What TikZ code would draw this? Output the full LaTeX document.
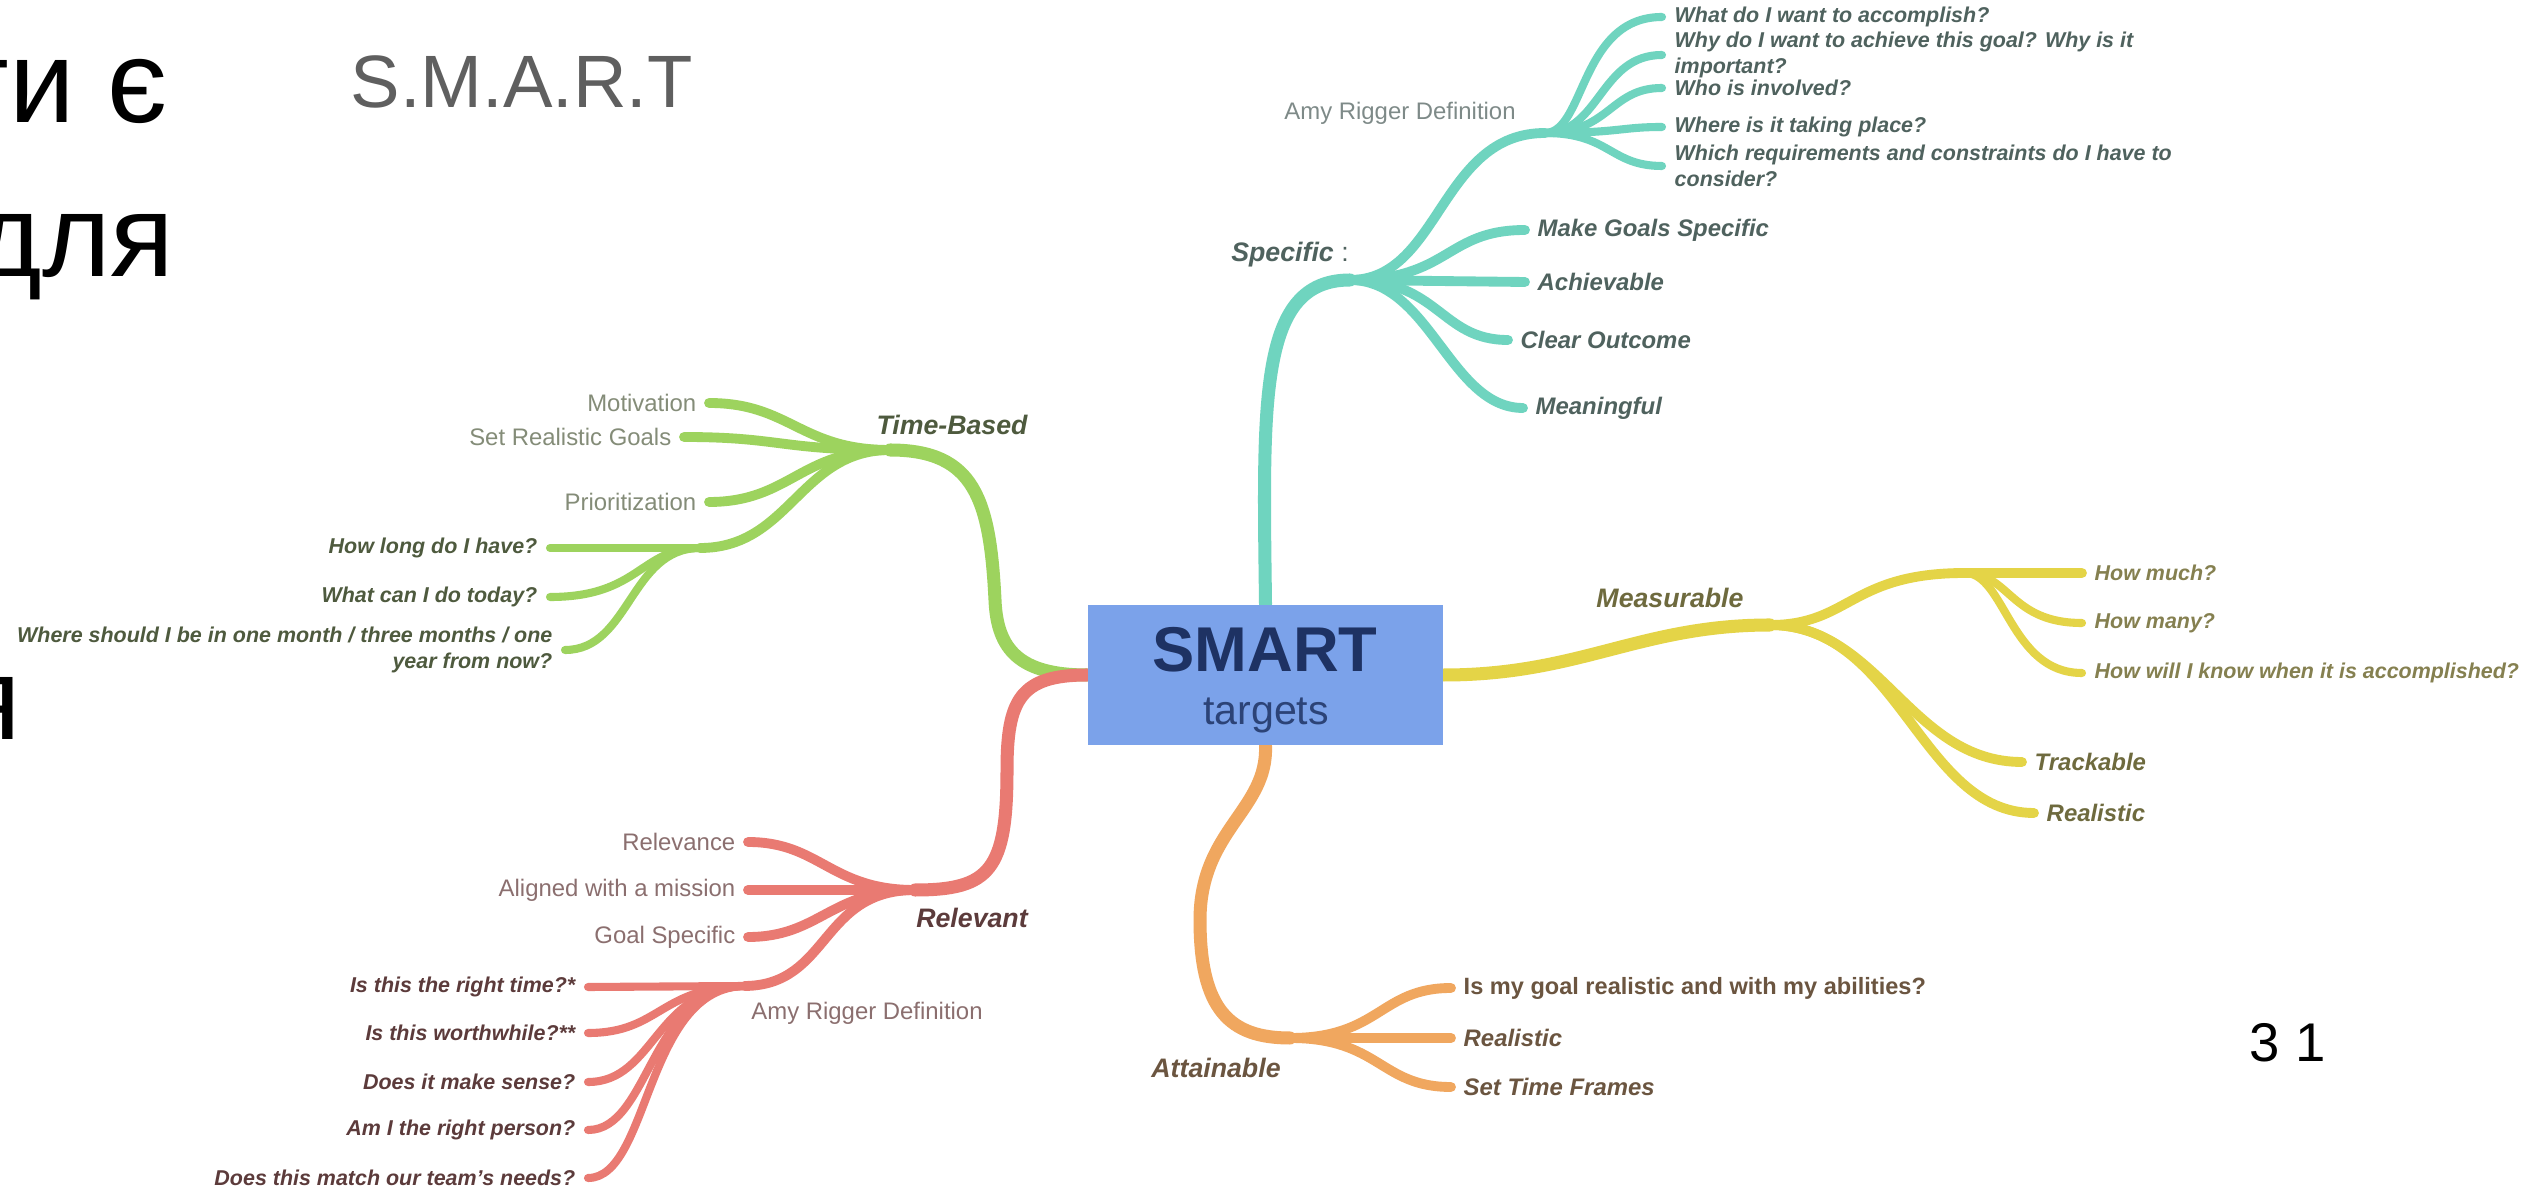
\documentclass[tikz,border=0pt]{standalone}
\usepackage{fontspec}
\setmainfont{Liberation Sans}
\definecolor{cteal}{HTML}{6FD4BF}
\definecolor{cyel}{HTML}{E4D447}
\definecolor{corg}{HTML}{F0A75F}
\definecolor{cred}{HTML}{E97A72}
\definecolor{cgrn}{HTML}{9DD35E}
\definecolor{cblue}{HTML}{7BA2EA}
\definecolor{cnavy}{HTML}{1E3263}
\definecolor{tealtx}{HTML}{4F625E}
\definecolor{tealrg}{HTML}{7E8A88}
\definecolor{yeltx}{HTML}{6E6A3E}
\definecolor{yell3}{HTML}{858050}
\definecolor{orgtx}{HTML}{6B5540}
\definecolor{redtx}{HTML}{5C3B3B}
\definecolor{redrg}{HTML}{8B6F6F}
\definecolor{grntx}{HTML}{4E5A3E}
\definecolor{grnrg}{HTML}{848C78}
\definecolor{smartgray}{HTML}{5F5F5F}
\begin{document}
\begin{tikzpicture}[x=0.01cm,y=-0.01cm,
  trunk/.style={line cap=round, line width=3.7pt},
  br/.style={line cap=round, line width=2.8pt},
  leaf/.style={line cap=round, line width=2.3pt},
  Lone/.style={inner sep=0pt, font=\fontsize{7.6}{9}\selectfont\bfseries\itshape},
  Ltwob/.style={font=\fontsize{6.8}{8}\selectfont\bfseries\itshape},
  Ltwou/.style={font=\fontsize{6.7}{8}\selectfont\bfseries},
  Ltwor/.style={font=\fontsize{6.8}{8}\selectfont},
  Lthree/.style={font=\fontsize{6.1}{7.4}\selectfont\bfseries\itshape},
  rt/.style={anchor=west, inner xsep=0.12cm, inner ysep=0pt},
  lt/.style={anchor=east, inner xsep=0.12cm, inner ysep=0pt},
  big/.style={inner sep=0pt, font=\fontsize{33.4}{40}\selectfont},
]
\useasboundingbox (0,0) rectangle (2527,1189);
\fill[white] (0,0) rectangle (2527,1189);

% slide fragments
\node[big, anchor=base east] (fa) at (168,123) {ти є};
\node[big, anchor=base east] (fb) at (175,277) {для};
\node[big, anchor=base east] (fc) at (22,740) {я};
\node[inner sep=0pt, anchor=base west, text=smartgray, font=\fontsize{21.1}{25}\selectfont] (title) at (350,108) {S.M.A.R.T};
\node[inner sep=0pt, anchor=base west, font=\fontsize{15.5}{18}\selectfont] (pg) at (2249,1061) {3 1};

% centre box (shape)
\node[fill=cblue, minimum width=3.55cm, minimum height=1.40cm, inner sep=0pt] (c) at (1265.5,675) {};

% junctions
\coordinate (jS) at (1350,280);
\coordinate (jA) at (1545,133);
\coordinate (jM) at (1770,625);
\coordinate (jH) at (1965,573);
\coordinate (jAt) at (1290,1038);
\coordinate (jR) at (915,890);
\coordinate (jRA) at (745,986);
\coordinate (jT) at (890,450);
\coordinate (jTS) at (700,548);

% ---------- labels ----------
% Specific
\node[Lone, text=tealtx] (sp) at (1290,255) {Specific \textnormal{:}};
\node[rt, Ltwob, text=tealtx] (mgs) at (1525,230) {Make Goals Specific};
\node[rt, Ltwob, text=tealtx] (ach) at (1525,282) {Achievable};
\node[rt, Ltwob, text=tealtx] (co) at (1508,340) {Clear Outcome};
\node[rt, Ltwob, text=tealtx] (mf) at (1523,408) {Meaningful};
\node[inner sep=0pt, Ltwor, text=tealrg] (amy) at (1400,113) {Amy Rigger Definition};
\node[rt, Lthree, text=tealtx] (what) at (1662,17) {What do I want to accomplish?};
\node[rt, Lthree, text=tealtx, align=left] (why) at (1662,55) {Why do I want to achieve this goal? Why is it\\important?};
\node[rt, Lthree, text=tealtx] (who) at (1662,88) {Who is involved?};
\node[rt, Lthree, text=tealtx] (where) at (1662,127) {Where is it taking place?};
\node[rt, Lthree, text=tealtx, align=left] (which) at (1662,166) {Which requirements and constraints do I have to\\consider?};

% Measurable
\node[Lone, text=yeltx] (ms) at (1670,598) {Measurable};
\node[rt, Lthree, text=yell3] (hm) at (2082,573) {How much?};
\node[rt, Lthree, text=yell3] (hmy) at (2082,623) {How many?};
\node[rt, Lthree, text=yell3] (hw) at (2082,673) {How will I know when it is accomplished?};
\node[rt, Ltwob, text=yeltx] (tr) at (2022,762) {Trackable};
\node[rt, Ltwob, text=yeltx] (rl) at (2034,813) {Realistic};

% Attainable
\node[Lone, text=orgtx] (at) at (1216,1068) {Attainable};
\node[rt, Ltwou, text=orgtx] (ig) at (1451,988) {Is my goal realistic and with my abilities?};
\node[rt, Ltwob, text=orgtx] (rlb) at (1451,1038) {Realistic};
\node[rt, Ltwob, text=orgtx] (stf) at (1451,1087) {Set Time Frames};

% Relevant
\node[Lone, text=redtx] (rv) at (972,918) {Relevant};
\node[lt, Ltwor, text=redrg] (rel) at (748,842) {Relevance};
\node[lt, Ltwor, text=redrg] (alg) at (748,890) {Aligned with a mission};
\node[lt, Ltwor, text=redrg] (gs) at (748,937) {Goal Specific};
\node[inner sep=0pt, Ltwor, text=redrg] (amyb) at (867,1013) {Amy Rigger Definition};
\node[lt, Lthree, text=redtx] (ta) at (588,987) {Is this the right time?*};
\node[lt, Lthree, text=redtx] (tb) at (588,1033) {Is this worthwhile?**};
\node[lt, Lthree, text=redtx] (tc) at (588,1082) {Does it make sense?};
\node[lt, Lthree, text=redtx] (td) at (588,1130) {Am I the right person?};
\node[lt, Lthree, text=redtx] (te) at (588,1178) {Does this match our team's needs?};

% Time-Based
\node[Lone, text=grntx] (tbs) at (952,425) {Time-Based};
\node[lt, Ltwor, text=grnrg] (mot) at (709,403) {Motivation};
\node[lt, Ltwor, text=grnrg] (srg) at (684,437) {Set Realistic Goals};
\node[lt, Ltwor, text=grnrg] (pri) at (709,502) {Prioritization};
\node[lt, Lthree, text=grntx] (hl) at (550,548) {How long do I have?};
\node[lt, Lthree, text=grntx] (wc) at (550,597) {What can I do today?};
\node[lt, Lthree, text=grntx, align=right] (ws) at (565,650) {Where should I be in one month / three months / one\\year from now?};

% ---------- connectors ----------
% teal
\draw[trunk,cteal] (c.north) .. controls (1263,400) and (1258,280) .. (jS);
\draw[br,cteal] (jS) .. controls (1450,280) and (1445,230) .. (mgs.west);
\draw[br,cteal] (jS) -- (ach.west);
\draw[br,cteal] (jS) .. controls (1440,280) and (1440,340) .. (co.west);
\draw[br,cteal] (jS) .. controls (1430,280) and (1450,408) .. (mf.west);
\draw[br,cteal] (jS) .. controls (1440,280) and (1440,133) .. (jA);
\draw[leaf,cteal] (jA) .. controls (1585,133) and (1580,17) .. (what.west);
\draw[leaf,cteal] (jA) .. controls (1600,133) and (1600,55) .. (why.west);
\draw[leaf,cteal] (jA) .. controls (1610,133) and (1610,88) .. (who.west);
\draw[leaf,cteal] (jA) .. controls (1620,133) and (1620,127) .. (where.west);
\draw[leaf,cteal] (jA) .. controls (1610,133) and (1610,166) .. (which.west);

% yellow
\draw[trunk,cyel] (c.east) .. controls (1580,675) and (1640,625) .. (jM);
\draw[br,cyel] (jM) .. controls (1850,625) and (1850,573) .. (jH) -- (hm.west);
\draw[leaf,cyel] (jH) .. controls (2010,573) and (2010,623) .. (hmy.west);
\draw[leaf,cyel] (jH) .. controls (2005,573) and (2010,673) .. (hw.west);
\draw[br,cyel] (jM) .. controls (1880,625) and (1910,762) .. (tr.west);
\draw[br,cyel] (jM) .. controls (1900,625) and (1920,813) .. (rl.west);

% orange
\draw[trunk,corg] (c.south) .. controls (1268,810) and (1200,830) .. (1200,920) .. controls (1200,1010) and (1230,1038) .. (jAt);
\draw[br,corg] (jAt) .. controls (1380,1038) and (1380,988) .. (ig.west);
\draw[br,corg] (jAt) -- (rlb.west);
\draw[br,corg] (jAt) .. controls (1380,1038) and (1380,1087) .. (stf.west);

% green
\draw[trunk,cgrn] (c.west) .. controls (1020,675) and (997,650) .. (995,600) .. controls (990,500) and (975,450) .. (jT);
\draw[br,cgrn] (jT) .. controls (800,450) and (790,403) .. (mot.east);
\draw[br,cgrn] (jT) .. controls (780,450) and (780,437) .. (srg.east);
\draw[br,cgrn] (jT) .. controls (800,450) and (790,502) .. (pri.east);
\draw[br,cgrn] (jT) .. controls (800,450) and (790,548) .. (jTS);
\draw[leaf,cgrn] (jTS) -- (hl.east);
\draw[leaf,cgrn] (jTS) .. controls (640,548) and (640,597) .. (wc.east);
\draw[leaf,cgrn] (jTS) .. controls (630,548) and (630,650) .. (ws.east);

% red
\draw[trunk,cred] (c.west) .. controls (1020,675) and (1007,700) .. (1007,770) .. controls (1007,870) and (990,890) .. (jR);
\draw[br,cred] (jR) .. controls (830,890) and (820,842) .. (rel.east);
\draw[br,cred] (jR) -- (alg.east);
\draw[br,cred] (jR) .. controls (830,890) and (820,937) .. (gs.east);
\draw[br,cred] (jR) .. controls (820,890) and (830,985) .. (jRA);
\draw[leaf,cred] (jRA) -- (ta.east);
\draw[leaf,cred] (jRA) .. controls (660,987) and (660,1033) .. (tb.east);
\draw[leaf,cred] (jRA) .. controls (655,987) and (655,1082) .. (tc.east);
\draw[leaf,cred] (jRA) .. controls (650,987) and (650,1130) .. (td.east);
\draw[leaf,cred] (jRA) .. controls (645,987) and (650,1178) .. (te.east);

% centre box on top
\node[fill=cblue, minimum width=3.55cm, minimum height=1.40cm, inner sep=0pt] (cc) at (c) {};
\node[anchor=base, inner sep=0pt, text=cnavy, font=\fontsize{18}{20}\selectfont\bfseries] (ca) at (1265,672) {SMART};
\node[anchor=base, inner sep=0pt, text=cnavy!85!cblue, font=\fontsize{11.7}{14}\selectfont] (cb) at (1266,725) {targets};
\end{tikzpicture}
\end{document}
